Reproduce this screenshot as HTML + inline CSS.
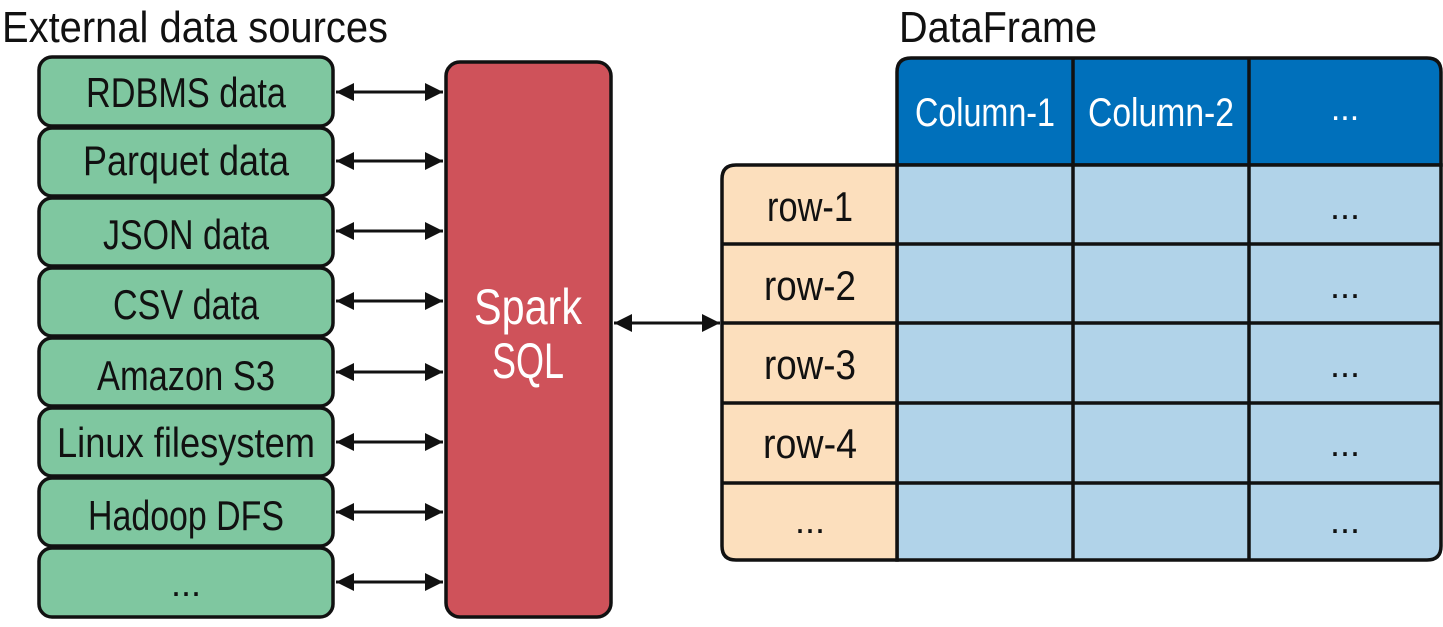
<!DOCTYPE html>
<html><head><meta charset="utf-8"><style>
html,body{margin:0;padding:0;background:#fff;}
svg text{font-family:"Liberation Sans",sans-serif;}
</style></head><body>
<svg width="1443" height="622" viewBox="0 0 1443 622" xmlns="http://www.w3.org/2000/svg">
<defs>
<marker id="a" viewBox="0 0 10 10" refX="10" refY="5" markerWidth="6" markerHeight="6" orient="auto-start-reverse"><path d="M0,0 L10,5 L0,10 z" fill="#111"/></marker>
</defs>
<text x="2" y="42" font-size="44" textLength="386" lengthAdjust="spacingAndGlyphs" fill="#111">External data sources</text>
<text x="899" y="42" font-size="44" textLength="198" lengthAdjust="spacingAndGlyphs" fill="#111">DataFrame</text>
<g stroke="#111" stroke-width="3.5" fill="#7fc7a0">
<rect x="39" y="57" width="294" height="69" rx="13"/>
<rect x="39" y="128" width="294" height="68" rx="13"/>
<rect x="39" y="198" width="294" height="68" rx="13"/>
<rect x="39" y="268" width="294" height="68" rx="13"/>
<rect x="39" y="338" width="294" height="68" rx="13"/>
<rect x="39" y="408" width="294" height="68" rx="13"/>
<rect x="39" y="478" width="294" height="68" rx="13"/>
<rect x="39" y="548" width="294" height="69" rx="13"/>
</g>
<g font-size="42" fill="#111" text-anchor="middle">
<text x="186" y="107" textLength="200" lengthAdjust="spacingAndGlyphs">RDBMS data</text>
<text x="186" y="175" textLength="206" lengthAdjust="spacingAndGlyphs">Parquet data</text>
<text x="186" y="249" textLength="166" lengthAdjust="spacingAndGlyphs">JSON data</text>
<text x="186" y="319" textLength="146" lengthAdjust="spacingAndGlyphs">CSV data</text>
<text x="186" y="390" textLength="178" lengthAdjust="spacingAndGlyphs">Amazon S3</text>
<text x="186" y="457" textLength="258" lengthAdjust="spacingAndGlyphs">Linux filesystem</text>
<text x="186" y="530" textLength="196" lengthAdjust="spacingAndGlyphs">Hadoop DFS</text>
<text x="186" y="596" font-size="36">...</text>
</g>
<g stroke="#111" stroke-width="3" marker-start="url(#a)" marker-end="url(#a)">
<line x1="336" y1="92" x2="443" y2="92"/>
<line x1="336" y1="161" x2="443" y2="161"/>
<line x1="336" y1="231" x2="443" y2="231"/>
<line x1="336" y1="301" x2="443" y2="301"/>
<line x1="336" y1="372" x2="443" y2="372"/>
<line x1="336" y1="442" x2="443" y2="442"/>
<line x1="336" y1="512" x2="443" y2="512"/>
<line x1="336" y1="582" x2="443" y2="582"/>
<line x1="614" y1="323" x2="720" y2="323"/>
</g>
<rect x="446" y="62" width="165" height="555" rx="14" fill="#cf525a" stroke="#111" stroke-width="3.5"/>
<text x="528" y="324" font-size="50" fill="#fff" text-anchor="middle" textLength="108" lengthAdjust="spacingAndGlyphs">Spark</text>
<text x="528" y="378" font-size="50" fill="#fff" text-anchor="middle" textLength="72" lengthAdjust="spacingAndGlyphs">SQL</text>
<path d="M897,165 V72 Q897,58 911,58 H1427 Q1441,58 1441,72 V165 Z" fill="#0070bb" stroke="#111" stroke-width="3.5"/>
<path d="M897,165 H1441 V546 Q1441,560 1427,560 H897 Z" fill="#b1d3e9" stroke="#111" stroke-width="3.5"/>
<path d="M897,165 H736 Q722,165 722,179 V546 Q722,560 736,560 H897 Z" fill="#fcdfbd" stroke="#111" stroke-width="3.5"/>
<g stroke="#111" stroke-width="3.5">
<line x1="1073" y1="58" x2="1073" y2="560"/>
<line x1="1249" y1="58" x2="1249" y2="560"/>
<line x1="722" y1="244" x2="1441" y2="244"/>
<line x1="722" y1="323" x2="1441" y2="323"/>
<line x1="722" y1="403" x2="1441" y2="403"/>
<line x1="722" y1="483" x2="1441" y2="483"/>
</g>
<g font-size="40" fill="#fff" text-anchor="middle">
<text x="985" y="126" textLength="140" lengthAdjust="spacingAndGlyphs">Column-1</text>
<text x="1161" y="126" textLength="146" lengthAdjust="spacingAndGlyphs">Column-2</text>
<text x="1345" y="120" font-size="34">...</text>
</g>
<g font-size="42" fill="#111" text-anchor="middle">
<text x="810" y="221" textLength="86" lengthAdjust="spacingAndGlyphs">row-1</text>
<text x="810" y="300" textLength="92" lengthAdjust="spacingAndGlyphs">row-2</text>
<text x="810" y="379" textLength="92" lengthAdjust="spacingAndGlyphs">row-3</text>
<text x="810" y="458" textLength="94" lengthAdjust="spacingAndGlyphs">row-4</text>
</g>
<g font-size="36" fill="#111" text-anchor="middle">
<text x="810" y="533">...</text>
<text x="1345" y="219">...</text>
<text x="1345" y="298">...</text>
<text x="1345" y="377">...</text>
<text x="1345" y="456">...</text>
<text x="1345" y="533">...</text>
</g>
</svg>
</body></html>
